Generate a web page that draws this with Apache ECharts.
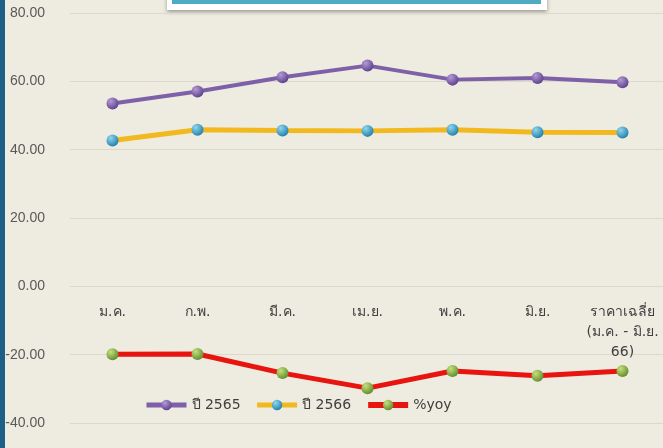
<!DOCTYPE html>
<html>
<head>
<meta charset="utf-8">
<script src="https://cdn.jsdelivr.net/npm/echarts@6/dist/echarts.min.js"></script>
<style>
  html, body { margin: 0; padding: 0; background: #eeebe0; }
  #main { width: 663px; height: 448px; }
</style>
</head>
<body>
<div id="main"></div>
<script>
// ข้อมูล
var categories = ['ม.ค.', 'ก.พ.', 'มี.ค.', 'เม.ย.', 'พ.ค.', 'มิ.ย.', 'ราคาเฉลี่ย\n(ม.ค. - มิ.ย.\n66)'];
var y2565 = [53.5, 57.0, 61.2, 64.6, 60.5, 61.0, 59.7];
var y2566 = [42.7, 45.8, 45.6, 45.5, 45.8, 45.1, 45.0];
var yoy = [-19.9, -19.8, -25.4, -29.8, -24.8, -26.2, -24.8];

function ball(light, dark) {
    return {
        type: 'radial', x: 0.35, y: 0.3, r: 0.75,
        colorStops: [{ offset: 0, color: light }, { offset: 1, color: dark }]
    };
}

var chart = echarts.init(document.getElementById('main'));

// แกน x อยู่ที่ระดับ 0 : ระยะจากขอบล่างของกริดถึงเส้น 0
var gridTop = 13, gridBottom = 25;
var zeroOffset = (448 - gridTop - gridBottom) * 40 / 120;

var option = {
    backgroundColor: '#eeebe0',
    textStyle: { fontFamily: 'Tahoma, "DejaVu Sans", "Noto Sans", sans-serif' },
    graphic: [
        { type: 'rect', left: 0, top: 0, shape: { width: 5, height: 448 }, style: { fill: '#1d5f86' } },
        { type: 'rect', shape: { x: 167, y: -6, width: 380, height: 16 },
          style: { fill: '#ffffff', shadowBlur: 4, shadowOffsetY: 2, shadowColor: 'rgba(0,0,0,0.35)' } },
        { type: 'rect', shape: { x: 172, y: -6, width: 369, height: 10 }, style: { fill: '#4fabc5' } }
    ],
    grid: { left: 70, right: -2, top: gridTop, bottom: gridBottom, outerBoundsMode: 'none', containLabel: false },
    legend: {
        left: 139, top: 393,
        itemWidth: 40, itemHeight: 13, itemGap: 14,
        textStyle: { color: '#404040', fontSize: 14 },
        data: [
            { name: 'ปี 2565', lineStyle: { width: 5 } },
            { name: 'ปี 2566', lineStyle: { width: 5 } },
            { name: '%yoy', lineStyle: { width: 6 } }
        ]
    },
    xAxis: {
        type: 'category',
        data: categories,
        offset: -zeroOffset,
        axisLine: { show: false, onZero: false },
        axisTick: { show: false },
        axisLabel: { color: '#404040', fontSize: 14, margin: 16, lineHeight: 20, interval: 0 }
    },
    yAxis: {
        type: 'value',
        min: -40, max: 80, interval: 20,
        axisLabel: {
            color: '#595959', fontSize: 14, margin: 25,
            fontFamily: '"Liberation Sans", Arial, sans-serif',
            formatter: function (v) { return v.toFixed(2); }
        },
        splitLine: { lineStyle: { color: '#dcd9cc', width: 1 } }
    },
    series: [
        {
            name: 'ปี 2565', type: 'line', data: y2565,
            symbol: 'circle', symbolSize: 12,
            lineStyle: { color: '#7d60a8', width: 4 },
            itemStyle: { color: ball('#b49ad6', '#5b3e8a') }
        },
        {
            name: 'ปี 2566', type: 'line', data: y2566,
            symbol: 'circle', symbolSize: 12,
            lineStyle: { color: '#f2b91e', width: 5 },
            itemStyle: { color: ball('#8fd6ee', '#1f7ea8') }
        },
        {
            name: '%yoy', type: 'line', data: yoy,
            symbol: 'circle', symbolSize: 12,
            lineStyle: { color: '#e8140f', width: 5 },
            itemStyle: { color: ball('#c5e07c', '#5f8a2c') }
        }
    ]
};

chart.setOption(option);
</script>
</body>
</html>
